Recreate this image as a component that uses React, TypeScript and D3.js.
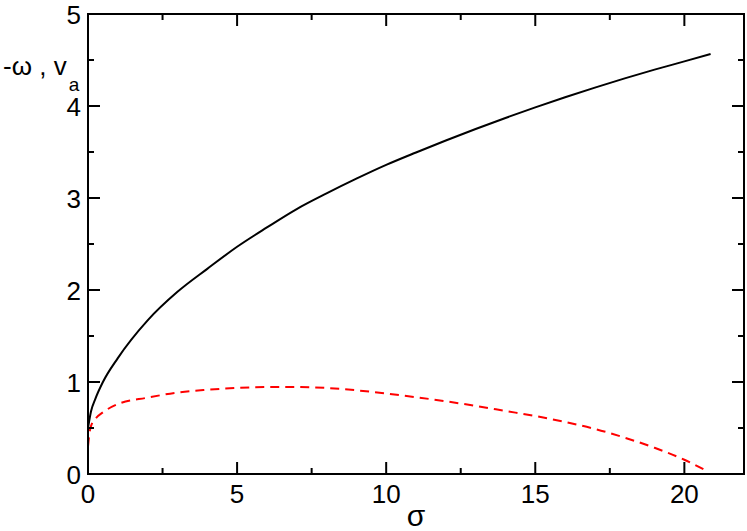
import React from "react";
import * as d3 from "d3";

const sigmaOmega = [0, 0.1, 0.25, 0.5, 1, 2, 3, 4, 5, 6, 7, 8, 9, 10, 11, 12, 13, 14, 15, 16, 17, 18, 19, 20, 20.88];
const omegaValues = [0.5, 0.68, 0.82, 1.0, 1.26, 1.67, 1.98, 2.23, 2.47, 2.68, 2.88, 3.05, 3.21, 3.36, 3.495, 3.625, 3.75, 3.87, 3.985, 4.095, 4.2, 4.3, 4.395, 4.485, 4.565];

const sigmaVa = [0, 0.05, 0.1, 0.25, 0.5, 1, 2, 3, 4, 5, 6, 7, 8, 9, 10, 11, 12, 13, 14, 15, 16, 17, 18, 19, 20, 20.74];
const vaValues = [0.3, 0.45, 0.52, 0.6, 0.67, 0.76, 0.83, 0.885, 0.915, 0.935, 0.945, 0.945, 0.935, 0.91, 0.875, 0.835, 0.79, 0.74, 0.685, 0.63, 0.565, 0.49, 0.395, 0.285, 0.155, 0.035];

const xMajorTicks = [0, 5, 10, 15, 20];
const xMinorTicks = [2.5, 7.5, 12.5, 17.5];
const yMajorTicks = [0, 1, 2, 3, 4, 5];
const yMinorTicks = [0.5, 1.5, 2.5, 3.5, 4.5];

const W = 747;
const H = 531;
const L = 88, R = 744, T = 14, B = 474;
const FONT = "'Liberation Sans', Arial, Helvetica, sans-serif";

export default function App() {
  const x = d3.scaleLinear().domain([0, 22]).range([L, R]);
  const y = d3.scaleLinear().domain([0, 5]).range([B, T]);
  const line = d3
    .line<[number, number]>()
    .x((d) => x(d[0]))
    .y((d) => y(d[1]))
    .curve(d3.curveMonotoneX);
  const omegaPts: [number, number][] = sigmaOmega.map((s, i) => [s, omegaValues[i]]);
  const vaPts: [number, number][] = sigmaVa.map((s, i) => [s, vaValues[i]]);
  const maj = 12, min = 6;
  return (
    <svg width={W} height={H} style={{ position: "absolute", left: 0, top: 0, background: "#fff" }}>
      <rect x={0} y={0} width={W} height={H} fill="#fff" />
      <path d={line(omegaPts) || ""} fill="none" stroke="#000" strokeWidth={2} />
      <path d={line(vaPts) || ""} fill="none" stroke="#ff0000" strokeWidth={2} strokeDasharray="9,6" />
      {xMajorTicks.map((t) => (
        <g key={"xM" + t}>
          <line x1={x(t)} x2={x(t)} y1={B} y2={B - maj} stroke="#000" strokeWidth={2} />
          <line x1={x(t)} x2={x(t)} y1={T} y2={T + maj} stroke="#000" strokeWidth={2} />
          <text x={x(t)} y={503} textAnchor="middle" fontFamily={FONT} fontSize={26}>{t}</text>
        </g>
      ))}
      {xMinorTicks.map((t) => (
        <g key={"xm" + t}>
          <line x1={x(t)} x2={x(t)} y1={B} y2={B - min} stroke="#000" strokeWidth={2} />
          <line x1={x(t)} x2={x(t)} y1={T} y2={T + min} stroke="#000" strokeWidth={2} />
        </g>
      ))}
      {yMajorTicks.map((t) => (
        <g key={"yM" + t}>
          <line x1={L} x2={L + maj} y1={y(t)} y2={y(t)} stroke="#000" strokeWidth={2} />
          <line x1={R} x2={R - maj} y1={y(t)} y2={y(t)} stroke="#000" strokeWidth={2} />
          <text x={81} y={y(t) + 9.5} textAnchor="end" fontFamily={FONT} fontSize={26}>{t}</text>
        </g>
      ))}
      {yMinorTicks.map((t) => (
        <g key={"ym" + t}>
          <line x1={L} x2={L + min} y1={y(t)} y2={y(t)} stroke="#000" strokeWidth={2} />
          <line x1={R} x2={R - min} y1={y(t)} y2={y(t)} stroke="#000" strokeWidth={2} />
        </g>
      ))}
      <rect x={L} y={T} width={R - L} height={B - T} fill="none" stroke="#000" strokeWidth={2} />
      <text x={416} y={526} textAnchor="middle" fontFamily={FONT} fontSize={30}>σ</text>
      <text x={3} y={75} fontFamily={FONT} fontSize={26}>
        -ω , v<tspan fontSize={19} dx={2} dy={16}>a</tspan>
      </text>
    </svg>
  );
}
